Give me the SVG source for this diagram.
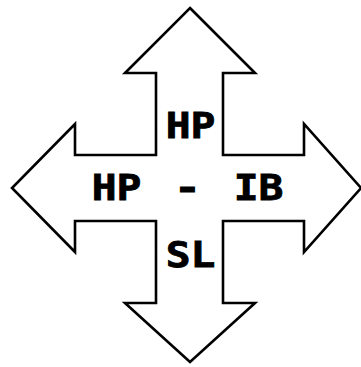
<svg xmlns="http://www.w3.org/2000/svg" width="361" height="367" viewBox="0 0 361 367">
<style>
.arrow{fill:#fff;stroke:#000;stroke-width:2.6;stroke-linejoin:miter}
.t{font-family:"DejaVu Sans Mono","Liberation Mono",monospace;font-weight:bold;font-size:35px;fill:#000;stroke:#000;stroke-width:0.8;text-anchor:middle}
</style>
<rect width="361" height="367" fill="#fff"/>
<g id="cross-arrow">
<polygon class="arrow" points="190,8 255,73 223,73 223,155 304,155 304,124 361,188 304,252 304,221 223,221 223,303 255,303 190,362 125,303 156,303 156,221 75,221 75,252 12,188 75,124 75,155 156,155 156,73 125,73"/>
</g>
<g id="labels">
<text class="t" transform="translate(190.5,137.5) scale(1.18,1)">HP</text>
<text class="t" transform="translate(116.5,200) scale(1.18,1)">HP</text>
<text class="t" transform="translate(187.5,200) scale(1.3,1)">-</text>
<text class="t" transform="translate(258.5,200) scale(1.18,1)">IB</text>
<text class="t" transform="translate(190.5,266.5) scale(1.18,1)">SL</text>
</g>
</svg>
